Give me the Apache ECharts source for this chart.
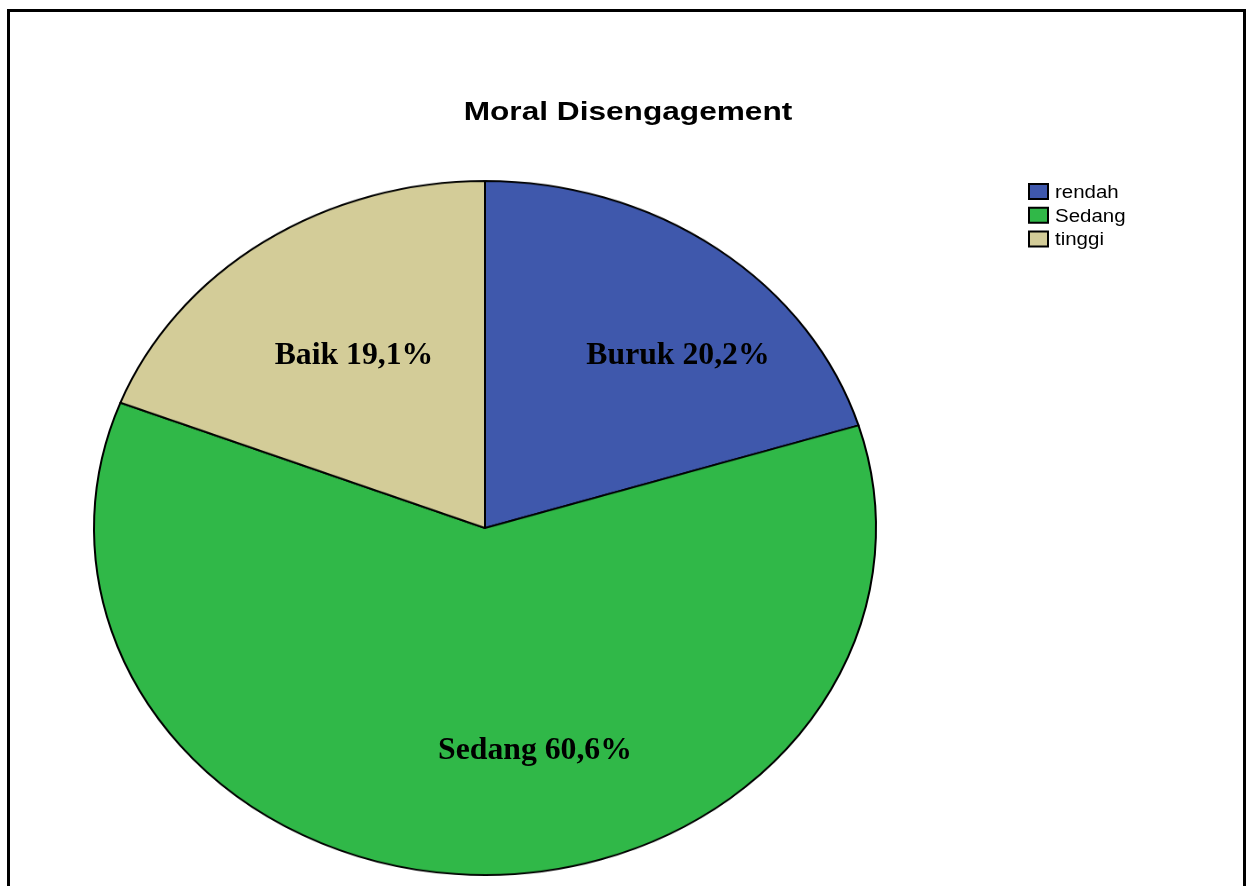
<!DOCTYPE html>
<html>
<head>
<meta charset="utf-8">
<script src="https://cdn.jsdelivr.net/npm/echarts@6/dist/echarts.min.js"></script>
<style>
html,body{margin:0;padding:0;background:#fff;}
#wrap{position:relative;width:1254px;height:886px;overflow:hidden;}
#pie{position:absolute;left:0;top:0;width:1254px;height:1000px;transform-origin:0 528px;transform:scaleY(0.8875);}
#over{position:absolute;left:0;top:0;width:1254px;height:886px;}
</style>
</head>
<body>
<div id="wrap"><div id="pie"></div><div id="over"></div></div>
<script>
const categories = ['rendah', 'Sedang', 'tinggi'];
const labelNames = ['Buruk', 'Sedang', 'Baik'];
const values = [20.2, 60.6, 19.1];
const colors = ['#3F58AC', '#30B848', '#D3CC98'];
const titleText = 'Moral Disengagement';

const pieData = categories.map((c, i) => ({ name: c, value: values[i], itemStyle: { color: colors[i] } }));

const pieChart = echarts.init(document.getElementById('pie'), null, { renderer: 'canvas' });
pieChart.setOption({
  backgroundColor: '#fff',
  animation: false,
  series: [{
    type: 'pie',
    center: [485, 528],
    radius: [0, 391],
    startAngle: 90,
    clockwise: true,
    silent: true,
    label: { show: false },
    labelLine: { show: false },
    itemStyle: { borderColor: '#000', borderWidth: 2 },
    data: pieData
  }]
});

const labelPos = [[678, 356], [535, 751], [354, 356]];
const fmt = v => v.toFixed(1).replace('.', ',') + '%';

const legendItems = categories.map((c, i) => ({
  type: 'group',
  x: 1029, y: 184 + i * 23.7,
  children: [
    { type: 'rect', shape: { x: 0, y: 0, width: 19, height: 15 }, style: { fill: colors[i], stroke: '#000', lineWidth: 2 } },
    { type: 'text', x: 26, y: 9, scaleX: 1.17,
      style: { text: c, fill: '#000', font: '17.5px "Liberation Sans", Arial, sans-serif', textAlign: 'left', textVerticalAlign: 'middle' } }
  ]
}));

const over = echarts.init(document.getElementById('over'), null, { renderer: 'canvas' });
over.setOption({
  animation: false,
  graphic: [
    { type: 'rect', shape: { x: 8.5, y: 10.5, width: 1236, height: 900 }, style: { fill: 'none', stroke: '#000', lineWidth: 3 } },
    { type: 'text', x: 628, y: 113, scaleX: 1.24,
      style: { text: titleText, fill: '#000', font: 'bold 25.5px "Liberation Sans", Arial, sans-serif', textAlign: 'center', textVerticalAlign: 'middle' } }
  ].concat(legendItems).concat(labelNames.map((n, i) => ({
    type: 'text',
    x: labelPos[i][0], y: labelPos[i][1], scaleX: 1.04,
    style: {
      text: n + ' ' + fmt(values[i]),
      fill: '#000',
      font: 'bold 30.5px "Liberation Serif", "Times New Roman", serif',
      textAlign: 'center', textVerticalAlign: 'middle'
    }
  })))
});
</script>
</body>
</html>
